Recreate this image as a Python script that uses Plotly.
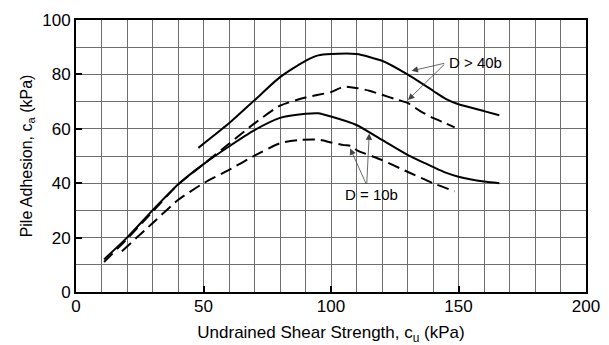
import plotly.graph_objects as go

# Data
x_solid_40 = [48, 60, 70, 80, 90, 95, 100, 110, 120, 130, 140, 145, 150, 160, 166]
y_solid_40 = [53, 62, 70.5, 79, 85, 87, 87.5, 87.5, 85, 80, 74, 71, 69, 66.5, 65]

x_dash_40 = [11, 20, 30, 40, 50, 60, 70, 80, 90, 95, 100, 105, 110, 115, 120, 125, 130, 135, 140, 145, 148.5]
y_dash_40 = [11, 19.5, 29.5, 39.5, 47, 54.5, 62, 68.5, 71.5, 72.5, 73.5, 75.5, 75, 74, 72.5, 71, 69.5, 66.5, 64, 62, 60.5]

x_solid_10 = [11, 20, 30, 40, 50, 60, 70, 80, 90, 95, 100, 110, 120, 130, 140, 145, 150, 160, 166]
y_solid_10 = [12, 20, 30, 39.5, 47, 53.5, 59.5, 64, 65.5, 65.7, 64.5, 61.4, 55.9, 50.4, 46, 43.9, 42.4, 40.6, 40]

x_dash_10 = [18, 30, 40, 50, 60, 70, 80, 88, 95, 100, 105, 108, 110, 120, 130, 140, 148.5]
y_dash_10 = [15, 25.3, 33.8, 40, 44.9, 50.1, 54.7, 55.9, 56, 55, 54, 53.7, 52.2, 48.5, 44.2, 40, 37]

x_ticks = [0, 50, 100, 150, 200]
y_ticks = [0, 20, 40, 60, 80, 100]

fig = go.Figure()
line_style = dict(color="black", width=2)
fig.add_trace(go.Scatter(x=x_solid_40, y=y_solid_40, mode="lines", line=dict(**line_style, shape="spline", smoothing=0.6)))
fig.add_trace(go.Scatter(x=x_dash_40, y=y_dash_40, mode="lines", line=dict(**line_style, dash="12px,6px", shape="spline", smoothing=0.6)))
fig.add_trace(go.Scatter(x=x_solid_10, y=y_solid_10, mode="lines", line=dict(**line_style, shape="spline", smoothing=0.6)))
fig.add_trace(go.Scatter(x=x_dash_10, y=y_dash_10, mode="lines", line=dict(**line_style, dash="12px,6px", shape="spline", smoothing=0.6)))

font_family = "Liberation Sans, Arial, sans-serif"

arrows = [
    (145, 84.2, 131.6, 81.3),
    (145, 84.2, 130.2, 70.6),
    (114, 39.3, 115, 58.3),
    (114, 39.3, 107.5, 52.8),
]
for ax_, ay_, x_, y_ in arrows:
    fig.add_annotation(x=x_, y=y_, ax=ax_, ay=ay_, xref="x", yref="y", axref="x", ayref="y",
                       text="", showarrow=True, arrowhead=2, arrowsize=1.6, arrowwidth=0.8,
                       arrowcolor="#444")

fig.add_annotation(x=145.5, y=84.2, text="D > 40b", showarrow=False, xanchor="left",
                   font=dict(family=font_family, size=15, color="black"))
fig.add_annotation(x=116, y=35.8, text="D = 10b", showarrow=False, xanchor="center",
                   font=dict(family=font_family, size=15, color="black"))

grid_color = "#6e6e6e"
fig.update_xaxes(range=[0, 200], tickvals=x_ticks, ticks="inside", ticklen=6, tickwidth=2,
                 tickcolor="black", showgrid=True, gridcolor=grid_color, gridwidth=1,
                 minor=dict(dtick=10, showgrid=True, gridcolor=grid_color, gridwidth=1),
                 showline=True, linecolor="black", linewidth=2, mirror=True, zeroline=False,
                 ticklabelstandoff=-2, automargin=False,
                 tickfont=dict(family=font_family, size=17, color="black"),
                 title=dict(text="Undrained Shear Strength, c<sub>u</sub> (kPa)", standoff=18,
                            font=dict(family=font_family, size=17, color="black")))
fig.update_yaxes(range=[0, 100], tickvals=y_ticks, ticks="inside", ticklen=6, tickwidth=2,
                 tickcolor="black", showgrid=True, gridcolor=grid_color, gridwidth=1,
                 minor=dict(dtick=10, showgrid=True, gridcolor=grid_color, gridwidth=1),
                 showline=True, linecolor="black", linewidth=2, mirror=True, zeroline=False,
                 automargin=False,
                 tickfont=dict(family=font_family, size=17, color="black"),
                 title=dict(text="Pile Adhesion, c<sub>a</sub> (kPa)", standoff=6,
                            font=dict(family=font_family, size=16, color="black")))

fig.update_layout(width=609, height=345, margin=dict(l=76, r=23, t=20, b=53),
                  paper_bgcolor="white", plot_bgcolor="white", showlegend=False)

fig.write_html("out.html")
